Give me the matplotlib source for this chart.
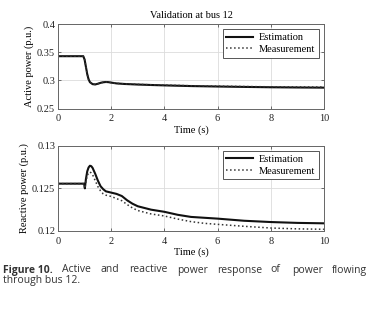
import numpy as np
import matplotlib
matplotlib.use('Agg')
import matplotlib.pyplot as plt

plt.rcParams.update({'font.family': 'serif',
                     'font.serif': ['Liberation Serif', 'DejaVu Serif'],
                     'font.size': 7.5,
                     'mathtext.fontset': 'stix'})

# active power (p.u.)
t_p = [0, 0.95, 1.0, 1.05, 1.1, 1.15, 1.2, 1.3, 1.4, 1.5, 1.6, 1.7, 1.8, 1.9,
       2.0, 2.2, 2.5, 3.0, 3.5, 4.0, 5.0, 6.0, 7.0, 8.0, 9.0, 10.0]
p_est = [0.343, 0.343, 0.337, 0.324, 0.311, 0.302, 0.297, 0.2935, 0.293, 0.2942,
         0.2958, 0.2968, 0.2973, 0.297, 0.2962, 0.2948, 0.2938, 0.2928, 0.292,
         0.2913, 0.2901, 0.2893, 0.2886, 0.288, 0.2876, 0.2873]
p_meas = [0.343, 0.343, 0.337, 0.324, 0.311, 0.302, 0.297, 0.2935, 0.293, 0.2942,
          0.2958, 0.2968, 0.2973, 0.297, 0.2962, 0.2949, 0.294, 0.2931, 0.2924,
          0.2918, 0.2907, 0.2899, 0.2893, 0.2888, 0.2885, 0.2883]

# reactive power (p.u.)
t_q = [0, 0.98, 1.01, 1.05, 1.1, 1.15, 1.2, 1.25, 1.3, 1.4, 1.5, 1.6, 1.7, 1.8,
       2.0, 2.2, 2.4, 2.6, 2.8, 3.0, 3.5, 4.0, 4.5, 5.0, 5.5, 6.0, 7.0, 8.0, 9.0, 10.0]
q_est = [0.12555, 0.12555, 0.1250, 0.1261, 0.1270, 0.12745, 0.12765, 0.1276,
         0.1274, 0.1267, 0.1259, 0.12525, 0.1249, 0.12465, 0.1245, 0.12435,
         0.1241, 0.1236, 0.1232, 0.1229, 0.1225, 0.12225, 0.1219, 0.12165,
         0.12155, 0.12145, 0.1212, 0.12105, 0.12095, 0.1209]
q_meas = [0.12555, 0.12555, 0.1250, 0.1258, 0.1265, 0.1268, 0.12692, 0.1268,
          0.1266, 0.1259, 0.1252, 0.1247, 0.12435, 0.1242, 0.12405, 0.1238,
          0.12355, 0.1231, 0.1227, 0.1224, 0.1220, 0.12176, 0.1214, 0.1211,
          0.1209, 0.12078, 0.12055, 0.12035, 0.12025, 0.1202]

x_ticks = [0, 2, 4, 6, 8, 10]
p_ticks = [0.25, 0.3, 0.35, 0.4]
p_labels = ['0.25', '0.3', '0.35', '0.4']
q_ticks = [0.12, 0.125, 0.13]
q_labels = ['0.12', '0.125', '0.13']


def style(ax, yticks, ylabels, ylim):
    ax.set_xlim(0, 10)
    ax.set_ylim(*ylim)
    ax.set_xticks(x_ticks)
    ax.set_yticks(yticks)
    ax.set_yticklabels(ylabels)
    ax.grid(True, color='#dcdcdc', linewidth=0.6)
    ax.set_axisbelow(True)
    ax.tick_params(direction='in', top=True, right=True, length=2.5,
                   width=0.6, color='#555555', labelcolor='#222222')
    ax.tick_params(axis='x', pad=4)
    ax.tick_params(axis='y', pad=2)
    for s in ax.spines.values():
        s.set_color('#666666')
        s.set_linewidth(0.7)
    ax.set_xlabel('Time (s)', labelpad=1.5)
    leg = ax.legend(loc='upper right', fontsize=7.5, handlelength=2.6,
                    borderpad=0.35, labelspacing=0.25, handletextpad=0.5,
                    fancybox=False, framealpha=1)
    leg.get_frame().set_edgecolor('#555555')
    leg.get_frame().set_linewidth(0.7)


fig = plt.figure(figsize=(3.75, 3.13), dpi=100)

ax1 = fig.add_axes([0.1547, 0.6527, 0.709, 0.2706])
ax1.plot(t_p, p_est, color='#111111', linewidth=1.5, label='Estimation')
ax1.plot(t_p, p_meas, color='#333333', linewidth=1.1, linestyle=':', label='Measurement')
ax1.set_ylabel('Active power (p.u.)', labelpad=2)
style(ax1, p_ticks, p_labels, (0.25, 0.4))
ax1.set_title('Validation at bus 12', fontsize=7.5, pad=4)

ax2 = fig.add_axes([0.1547, 0.262, 0.709, 0.2725])
ax2.plot(t_q, q_est, color='#111111', linewidth=1.5, label='Estimation')
ax2.plot(t_q, q_meas, color='#333333', linewidth=1.1, linestyle=':', label='Measurement')
ax2.set_ylabel('Reactive power (p.u.)', labelpad=2)
style(ax2, q_ticks, q_labels, (0.12, 0.13))

# caption, first line justified by hand
cap_font = ['Open Sans', 'DejaVu Sans']
cap_size = 7.5
words = ['Active', 'and', 'reactive', 'power', 'response', 'of', 'power', 'flowing']
word_x = [62, 101, 129, 177, 217, 270, 292, 332]
fig.text(3 / 375, 1 - 270 / 313, 'Figure 10.', family=cap_font, fontsize=cap_size,
         fontweight='bold', color='#333333', va='center')
for w, x in zip(words, word_x):
    fig.text(x / 375, 1 - 270 / 313, w, family=cap_font, fontsize=cap_size,
             color='#333333', va='center')
fig.text(3 / 375, 1 - 281 / 313, 'through bus 12.', family=cap_font, fontsize=cap_size,
         color='#333333', va='center')

fig.savefig('out.png', dpi=100)
